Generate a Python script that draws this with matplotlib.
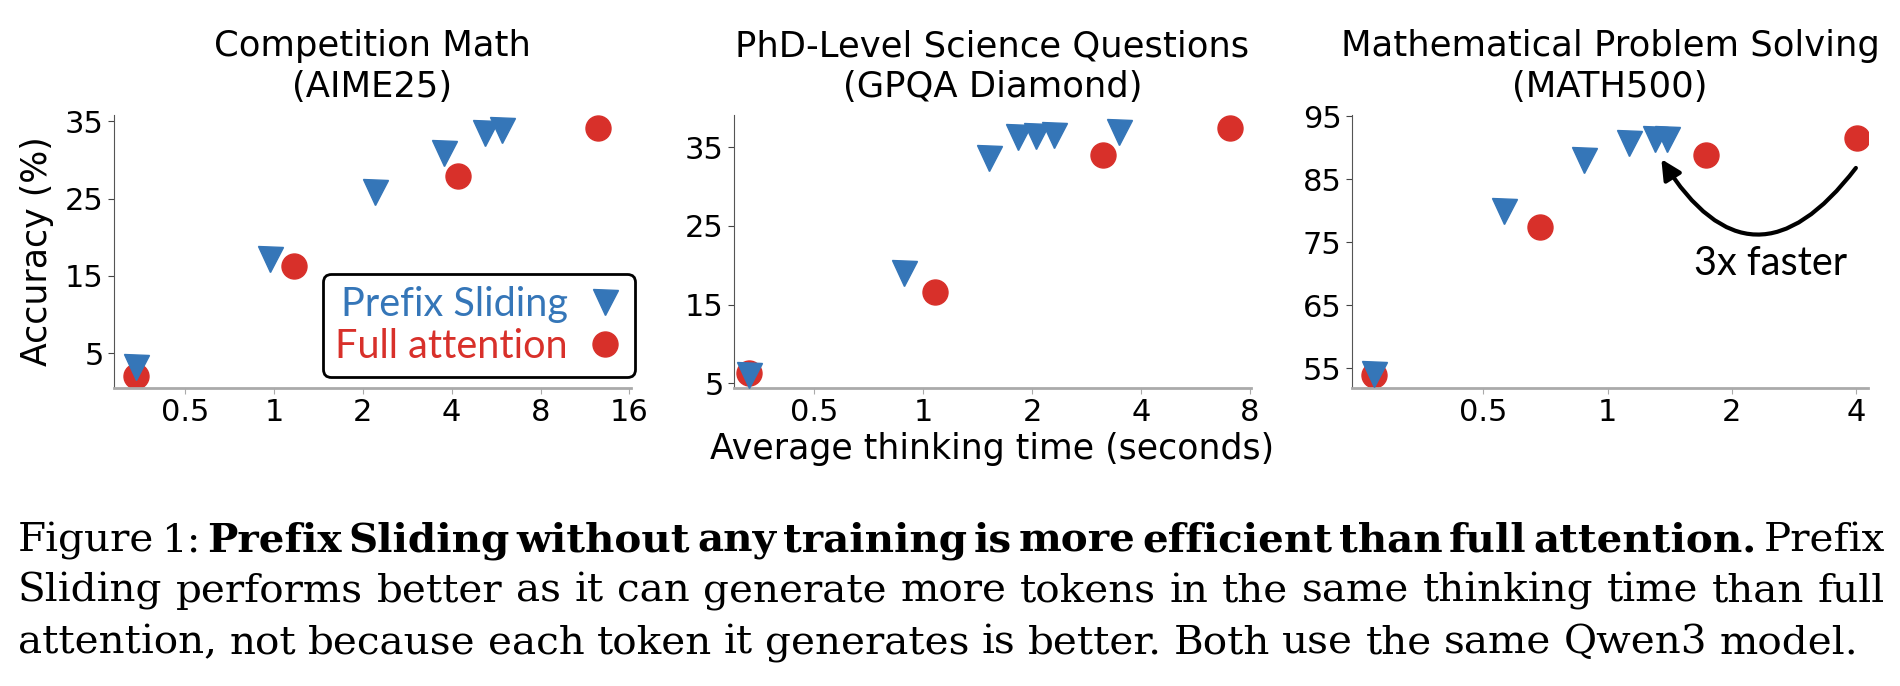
import numpy as np
import matplotlib
matplotlib.use("Agg")
import matplotlib.pyplot as plt
from matplotlib.ticker import FixedLocator, FixedFormatter, NullLocator

# ---- data ----
titles = ["Competition Math\n(AIME25)",
          "PhD-Level Science Questions\n(GPQA Diamond)",
          "Mathematical Problem Solving\n(MATH500)"]

aime_ps_x = [0.34, 0.97, 2.2, 3.76, 5.2, 5.9]
aime_ps_y = [3.2, 17.2, 25.8, 30.9, 33.5, 33.8]
aime_fa_x = [0.34, 1.17, 4.2, 12.5]
aime_fa_y = [2.1, 16.3, 27.9, 34.1]

gpqa_ps_x = [0.33, 0.886, 1.52, 1.83, 2.05, 2.3, 3.48]
gpqa_ps_y = [6.1, 19.0, 33.6, 36.3, 36.4, 36.5, 37.0]
gpqa_fa_x = [0.33, 1.08, 3.14, 7.06]
gpqa_fa_y = [6.3, 16.6, 34.0, 37.4]

math_ps_x = [0.272, 0.56, 0.876, 1.126, 1.30, 1.39]
math_ps_y = [54.1, 80.0, 88.1, 90.8, 91.4, 91.4]
math_fa_x = [0.272, 0.684, 1.73, 4.03]
math_fa_y = [53.9, 77.5, 88.8, 91.6]

xticks = [[0.5, 1, 2, 4, 8, 16], [0.5, 1, 2, 4, 8], [0.5, 1, 2, 4]]
xticklabels = [["0.5", "1", "2", "4", "8", "16"],
               ["0.5", "1", "2", "4", "8"],
               ["0.5", "1", "2", "4"]]
yticks = [[5, 15, 25, 35], [5, 15, 25, 35], [55, 65, 75, 85, 95]]
xlims = [(0.287, 16.2), (0.30, 8.05), (0.24, 4.28)]
ylims = [(0.5, 35.8), (4.4, 39.1), (51.9, 95.2)]

caption_lines = [
    [("Figure", "normal"), ("1:", "normal"), ("Prefix", "bold"), ("Sliding", "bold"),
     ("without", "bold"), ("any", "bold"), ("training", "bold"), ("is", "bold"),
     ("more", "bold"), ("efficient", "bold"), ("than", "bold"), ("full", "bold"),
     ("attention.", "bold"), ("Prefix", "normal")],
    [(w, "normal") for w in "Sliding performs better as it can generate more tokens "
                            "in the same thinking time than full".split()],
    [(w, "normal") for w in "attention, not because each token it generates is better. "
                            "Both use the same Qwen3 model.".split()],
]

BLUE = "#3576b8"
RED = "#d8302a"
LEG_FONT = "Lato"
CAP_FONT = "DejaVu Serif"

W, H = 1900, 686
fig = plt.figure(figsize=(W / 100, H / 100), dpi=100)
plt.rcParams["font.family"] = "DejaVu Sans"

lefts = [114, 734, 1352]
widths = [517, 517, 516]
ax_top, ax_bot = 115, 388

series = [(aime_ps_x, aime_ps_y, aime_fa_x, aime_fa_y),
          (gpqa_ps_x, gpqa_ps_y, gpqa_fa_x, gpqa_fa_y),
          (math_ps_x, math_ps_y, math_fa_x, math_fa_y)]

axes = []
for i in range(3):
    ax = fig.add_axes([lefts[i] / W, (H - ax_bot) / H, widths[i] / W, (ax_bot - ax_top) / H])
    psx, psy, fax, fay = series[i]
    ax.plot(psx, psy, linestyle="none", marker="v", markersize=18, color=BLUE,
            label="Prefix Sliding", zorder=3)
    ax.plot(fax, fay, linestyle="none", marker="o", markersize=18, color=RED,
            label="Full attention", zorder=2)
    ax.set_xscale("log")
    ax.xaxis.set_major_locator(FixedLocator(xticks[i]))
    ax.xaxis.set_major_formatter(FixedFormatter(xticklabels[i]))
    ax.xaxis.set_minor_locator(NullLocator())
    ax.set_yticks(yticks[i])
    ax.set_xlim(*xlims[i])
    ax.set_ylim(*ylims[i])
    ax.tick_params(axis="both", labelsize=22, length=4)
    ax.tick_params(axis="x", color="#aaaaaa")
    ax.tick_params(axis="y", color="#444444", width=0.8)
    for s in ["top", "right"]:
        ax.spines[s].set_visible(False)
    ax.spines["left"].set_color("#555555")
    ax.spines["left"].set_linewidth(0.8)
    ax.spines["bottom"].set_color("#aaaaaa")
    ax.spines["bottom"].set_linewidth(2)
    ax.set_title(titles[i], fontsize=25.5, pad=13, linespacing=1.25)
    axes.append(ax)

axes[0].set_ylabel("Accuracy (%)", fontsize=25, labelpad=8)
axes[1].set_xlabel("Average thinking time (seconds)", fontsize=25, labelpad=3)

leg = axes[0].legend(loc="lower right", bbox_to_anchor=(1.008, 0.041), borderaxespad=0,
                     markerfirst=False, frameon=True, fancybox=True, framealpha=1,
                     edgecolor="black", prop={"family": LEG_FONT, "size": 28.5},
                     handlelength=0.9, handletextpad=0.5, labelspacing=0.12,
                     borderpad=0.3)
leg.get_frame().set_linewidth(2)
for txt, col in zip(leg.get_texts(), [BLUE, RED]):
    txt.set_color(col)

# arrow + note on MATH500
ax3 = axes[2]
ax3.annotate("", xy=(1.35, 88.2), xytext=(4.0, 86.8),
             arrowprops=dict(arrowstyle="-|>", connectionstyle="arc3,rad=-0.72",
                             lw=3, color="black", mutation_scale=30,
                             shrinkA=0, shrinkB=0))
ax3.text(2.49, 71.6, "3x faster", fontsize=28.5, family=LEG_FONT,
         ha="center", va="center")

# ---- caption, justified word by word ----
fig.canvas.draw()
renderer = fig.canvas.get_renderer()
x0, x1 = 18, 1885
last_line_end = 1853
baselines = [551, 602, 653]


def place_words(words, size, yb):
    texts = []
    for w, weight in words:
        t = fig.text(0, 1 - yb / H, w, fontsize=size, fontweight=weight,
                     family=CAP_FONT, va="baseline", ha="left")
        texts.append(t)
    wds = [t.get_window_extent(renderer).width for t in texts]
    return texts, wds


# pick a size so the (unjustified) last line ends where it does in the reference
probe, pw = place_words(caption_lines[-1], 20, baselines[-1])
space20 = 20 * 100 / 72 * 0.3
natural = sum(pw) + space20 * (len(pw) - 1)
for t in probe:
    t.remove()
cap_size = 20 * (last_line_end - x0) / natural

for li, words in enumerate(caption_lines):
    texts, wds = place_words(words, cap_size, baselines[li])
    if li < len(caption_lines) - 1:
        gap = (x1 - x0 - sum(wds)) / (len(wds) - 1)
    else:
        gap = cap_size * 100 / 72 * 0.3
    x = x0
    for t, wd in zip(texts, wds):
        t.set_x(x / W)
        x += wd + gap

fig.savefig("out.png", dpi=100)
